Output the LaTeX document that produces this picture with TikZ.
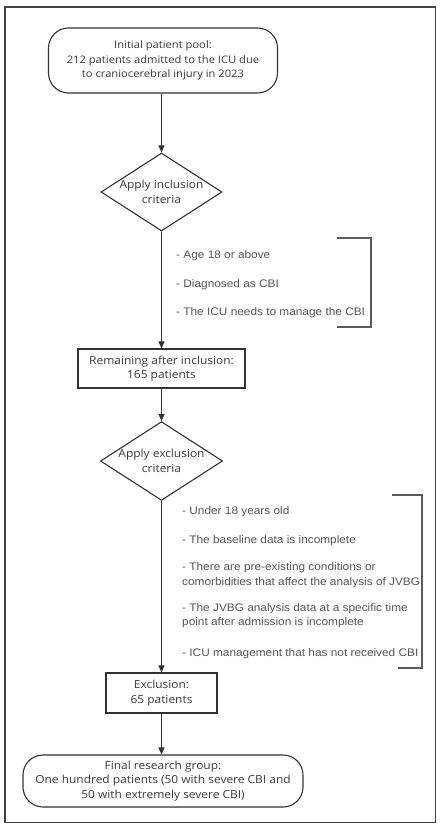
\documentclass[tikz,border=0pt]{standalone}
\usepackage{fontspec}
\setmainfont[FakeStretch=1.08]{Open Sans}
\newfontfamily\listfont[FakeStretch=1.08]{Liberation Sans}
\usetikzlibrary{shapes.geometric,arrows.meta}
\definecolor{boxtext}{HTML}{3A3A3A}
\definecolor{listtext}{HTML}{555555}
\definecolor{lineclr}{HTML}{333333}
\tikzset{
  every node/.style={font=\fontsize{11.1}{14.8}\selectfont, text=boxtext},
  smalltext/.style={font=\fontsize{10.4}{14.5}\selectfont},
  roundbox/.style={draw=lineclr, line width=1.1bp, rounded corners=20bp, align=center, inner sep=0pt},
  rectbox/.style={draw=lineclr, line width=1.1bp, align=center, inner sep=0pt},
  decision/.style={draw=lineclr, line width=1.1bp, diamond, aspect=1.55, inner sep=0pt, align=center, minimum width=121bp, minimum height=78bp},
  flow/.style={draw=lineclr, line width=0.9bp, -{Triangle[length=7bp,width=6bp]}},
  listitem/.style={font=\listfont\fontsize{11}{14.5}\selectfont, text=listtext, anchor=west, align=left, inner sep=0pt},
  bracket/.style={draw=lineclr!80, line width=1.1bp},
}
\begin{document}
\begin{tikzpicture}[x=1bp,y=-1bp]
\useasboundingbox (0,0) rectangle (441,830);
\draw[draw=black!75, line width=1.6bp] (5,7) rectangle (435.5,822.5);
% nodes
\node[roundbox, smalltext, minimum width=229bp, minimum height=65bp] (pool) at (163,60.5)
  {Initial patient pool:\\212 patients admitted to the ICU due\\to craniocerebral injury in 2023};
\node[decision] (incl) at (161.5,192) {Apply inclusion\\criteria};
\node[rectbox, minimum width=167bp, minimum height=39bp] (remain) at (161.5,368.5)
  {Remaining after inclusion:\\165 patients};
\node[decision] (excl) at (161.5,461) {Apply exclusion\\criteria};
\node[rectbox, minimum width=111bp, minimum height=40bp] (exclbox) at (161.5,693)
  {Exclusion:\\65 patients};
\node[roundbox, minimum width=280bp, minimum height=52bp] (final) at (163,781)
  {Final research group:\\One hundred patients (50 with severe CBI and\\50 with extremely severe CBI)};
% connectors
\draw[flow] (pool.south -| incl.north) -- (incl.north);
\draw[flow] (incl.south) -- (remain.north -| incl.south);
\draw[flow] (remain.south -| excl.north) -- (excl.north);
\draw[flow] (excl.south) -- (exclbox.north -| excl.south);
\draw[flow] (exclbox.south) -- (final.north -| exclbox.south);
% inclusion criteria list
\node[listitem] (i1) at (176,256) {- Age 18 or above};
\node[listitem] (i2) at (176,285) {- Diagnosed as CBI};
\node[listitem] (i3) at (176,313) {- The ICU needs to manage the CBI};
\coordinate (ib1) at (337,238);
\coordinate (ib2) at (371,238);
\coordinate (ib3) at (371,327);
\coordinate (ib4) at (337,327);
\draw[bracket] (ib1) -- (ib2) -- (ib3) -- (ib4);
% exclusion criteria list
\node[listitem] (e1) at (182,512) {- Under 18 years old};
\node[listitem] (e2) at (182,541) {- The baseline data is incomplete};
\node[listitem] (e3) at (182,575) {- There are pre-existing conditions or\\comorbidities that affect the analysis of JVBG};
\node[listitem] (e4) at (182,615.5) {- The JVBG analysis data at a specific time\\point after admission is incomplete};
\node[listitem] (e5) at (182,654) {- ICU management that has not received CBI};
\coordinate (eb1) at (392,495);
\coordinate (eb2) at (422,495);
\coordinate (eb3) at (422,668);
\coordinate (eb4) at (398,668);
\draw[bracket] (eb1) -- (eb2) -- (eb3) -- (eb4);
\end{tikzpicture}
\end{document}
